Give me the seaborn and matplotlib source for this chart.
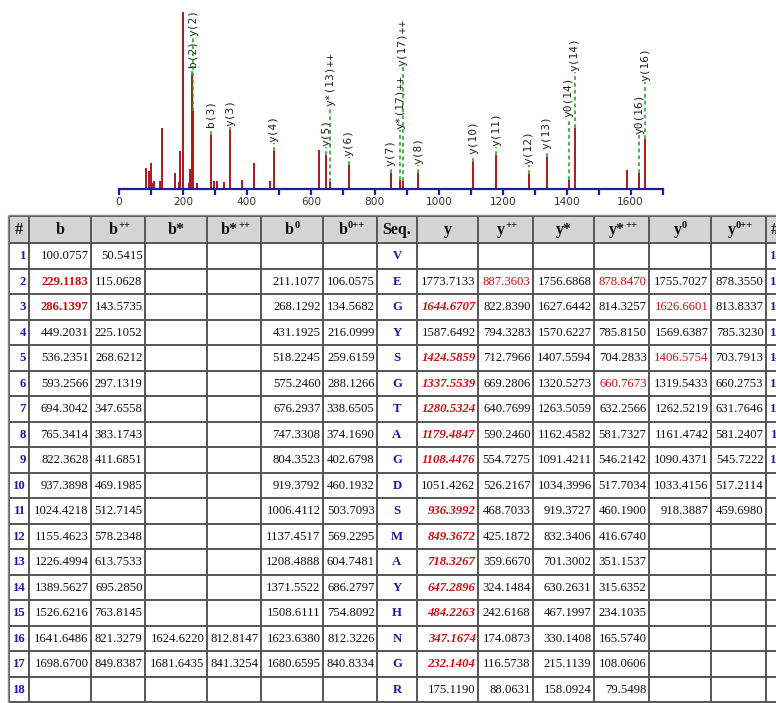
import matplotlib
matplotlib.use("Agg")
import matplotlib.pyplot as plt
import seaborn as sns
from matplotlib.patches import Rectangle

# ---------------- spectrum data ----------------
peak_mz = [84.5, 93.0, 101.0, 104.0, 110.5, 128.0, 134.6, 174.3, 187.8, 191.9,
           201.3, 218.0, 222.0, 229.1, 232.1, 245.0, 286.1, 298.3, 307.7, 328.6,
           347.2, 386.0, 421.6, 472.6, 484.2, 625.0, 647.3, 660.8, 718.3, 849.4,
           878.8, 887.4, 936.4, 1108.4, 1179.5, 1280.5, 1337.6, 1406.6, 1424.6,
           1587.8, 1626.7, 1644.7]
peak_int = [11.7, 10.3, 14.7, 3.4, 4.5, 4.5, 34.5, 9.2, 4.0, 21.3,
            100.0, 3.4, 11.3, 64.4, 44.1, 3.4, 30.7, 4.5, 4.5, 4.0,
            33.2, 5.1, 14.7, 4.5, 21.3, 21.9, 19.4, 3.8, 13.6, 9.2,
            5.1, 4.5, 9.2, 15.3, 19.0, 8.6, 18.2, 5.1, 34.6,
            10.6, 9.2, 28.4]

ann_labels = ["b(2)", "y(2)", "b(3)", "y(3)", "y(4)", "y(5)", "y*(13)++", "y(6)",
              "y(7)", "y*(17)++", "y(17)++", "y(8)", "y(10)", "y(11)", "y(12)",
              "y(13)", "y0(14)", "y(14)", "y0(16)", "y(16)"]
ann_mz = [229.1, 232.1, 286.1, 347.2, 484.2, 647.3, 660.8, 718.3,
          849.4, 878.8, 887.4, 936.4, 1108.4, 1179.5, 1280.5,
          1337.6, 1406.6, 1424.6, 1626.7, 1644.7]
# layout: height (relative intensity units) at which each label starts
label_level = [68.4, 85.9, 34.5, 35.0, 26.0, 23.7, 46.3, 18.1,
               12.4, 33.3, 68.9, 13.6, 19.2, 23.7, 13.6,
               22.0, 40.1, 66.1, 30.5, 60.5]

# ---------------- table data ----------------
header_base = ["#", "b", "b", "b*", "b*", "b", "b", "Seq.", "y", "y", "y*", "y*", "y", "y", "#"]
header_sup = ["", "", "++", "", "++", "0", "0++", "", "", "++", "", "++", "0", "0++", ""]
row_num = list(range(1, 19))
seq = list("VEGYSGTAGDSMAYHNGR")
N = None
b_ion = [100.0757, 229.1183, 286.1397, 449.2031, 536.2351, 593.2566, 694.3042, 765.3414,
         822.3628, 937.3898, 1024.4218, 1155.4623, 1226.4994, 1389.5627, 1526.6216,
         1641.6486, 1698.6700, N]
b_2 = [50.5415, 115.0628, 143.5735, 225.1052, 268.6212, 297.1319, 347.6558, 383.1743,
       411.6851, 469.1985, 512.7145, 578.2348, 613.7533, 695.2850, 763.8145, 821.3279,
       849.8387, N]
b_star = [N] * 15 + [1624.6220, 1681.6435, N]
b_star2 = [N] * 15 + [812.8147, 841.3254, N]
b_0 = [N, 211.1077, 268.1292, 431.1925, 518.2245, 575.2460, 676.2937, 747.3308, 804.3523,
       919.3792, 1006.4112, 1137.4517, 1208.4888, 1371.5522, 1508.6111, 1623.6380,
       1680.6595, N]
b_02 = [N, 106.0575, 134.5682, 216.0999, 259.6159, 288.1266, 338.6505, 374.1690, 402.6798,
        460.1932, 503.7093, 569.2295, 604.7481, 686.2797, 754.8092, 812.3226, 840.8334, N]
y_ion = [N, 1773.7133, 1644.6707, 1587.6492, 1424.5859, 1337.5539, 1280.5324, 1179.4847,
         1108.4476, 1051.4262, 936.3992, 849.3672, 718.3267, 647.2896, 484.2263, 347.1674,
         232.1404, 175.1190]
y_2 = [N, 887.3603, 822.8390, 794.3283, 712.7966, 669.2806, 640.7699, 590.2460, 554.7275,
       526.2167, 468.7033, 425.1872, 359.6670, 324.1484, 242.6168, 174.0873, 116.5738, 88.0631]
y_star = [N, 1756.6868, 1627.6442, 1570.6227, 1407.5594, 1320.5273, 1263.5059, 1162.4582,
          1091.4211, 1034.3996, 919.3727, 832.3406, 701.3002, 630.2631, 467.1997, 330.1408,
          215.1139, 158.0924]
y_star2 = [N, 878.8470, 814.3257, 785.8150, 704.2833, 660.7673, 632.2566, 581.7327,
           546.2142, 517.7034, 460.1900, 416.6740, 351.1537, 315.6352, 234.1035, 165.5740,
           108.0606, 79.5498]
y_0 = [N, 1755.7027, 1626.6601, 1569.6387, 1406.5754, 1319.5433, 1262.5219, 1161.4742,
       1090.4371, 1033.4156, 918.3887] + [N] * 7
y_02 = [N, 878.3550, 813.8337, 785.3230, 703.7913, 660.2753, 631.7646, 581.2407,
        545.7222, 517.2114, 459.6980] + [N] * 7
row_num_rev = list(range(18, 0, -1))

# matched (red) rows per column
b_matched = [2, 3]
y_matched = [3, 5, 6, 7, 8, 9, 11, 12, 13, 14, 15, 16, 17]
y2_matched = [2]
ystar2_matched = [2, 6]
y0_matched = [3, 5]

# ---------------- styling ----------------
W, H = 776, 703
sns.set_theme(style="white")
fig = plt.figure(figsize=(W / 100, H / 100), dpi=100)
fig.patch.set_facecolor("white")

PEAK = "#b01818"
GREEN = "#1f9a1f"
NAVY = "#1c1ca0"
RED = "#cc1010"

# spectrum axes, placed in pixel geometry
x0_px, x1_px, base_px, top_px = 119.0, 662.7, 189.0, 5.0
ymax = (base_px - top_px) / 177.0 * 100.0
ax = fig.add_axes([x0_px / W, 1 - base_px / H, (x1_px - x0_px) / W, (base_px - top_px) / H])
ax.set_facecolor("none")
ax.set_xlim(0, 1700)
ax.set_ylim(0, ymax)
ax.vlines(peak_mz, 0, peak_int, color=PEAK, lw=1.4, zorder=2)

for lab, mz, lev in zip(ann_labels, ann_mz, label_level):
    i = min(range(len(peak_mz)), key=lambda k: abs(peak_mz[k] - mz))
    top = peak_int[i]
    ax.plot([mz, mz], [top, lev], color=GREEN, lw=1.1, ls=(0, (2.5, 2)), zorder=3,
            clip_on=False)
    ax.text(mz, lev + 0.6, lab, rotation=90, ha="center", va="bottom",
            family="DejaVu Sans Mono", fontsize=8, color="#222222", clip_on=False)

sns.despine(ax=ax, left=True, top=True, right=True)
ax.spines["bottom"].set_color(NAVY)
ax.spines["bottom"].set_linewidth(1.6)
ax.set_yticks([])
ax.set_xticks(range(0, 1701, 100))
ax.set_xticklabels([str(v) if v % 200 == 0 else "" for v in range(0, 1701, 100)])
ax.tick_params(axis="x", direction="out", length=4, width=1.6, color=NAVY,
               labelsize=7.6, labelcolor="#333333", pad=2, bottom=True)
for t in ax.get_xticklabels():
    t.set_family("DejaVu Sans")
ax.grid(False)

# ---------------- table (pixel coordinate overlay) ----------------
tx = fig.add_axes([0, 0, 1, 1])
tx.set_xlim(0, W)
tx.set_ylim(H, 0)
tx.axis("off")
tx.patch.set_alpha(0)

col_edges = [9, 29, 91, 145, 207, 261, 323, 377, 417, 478, 533, 594, 649, 711, 766, 800]
head_top, head_bot, row_h = 216, 243, 25.5
row_edges = [head_bot + row_h * i for i in range(19)]

for c in range(len(col_edges) - 1):
    tx.add_patch(Rectangle((col_edges[c], head_top), col_edges[c + 1] - col_edges[c],
                           head_bot - head_top, facecolor="#d4d4d4", edgecolor="none",
                           zorder=1))
LC = "#555555"
tx.hlines([head_top] + row_edges, col_edges[0], col_edges[-1], color=LC, lw=1.4, zorder=3)
tx.vlines(col_edges, head_top, row_edges[-1], color=LC, lw=1.4, zorder=3)
tx.vlines([col_edges[0] - 1.5], head_top - 1.5, row_edges[-1], color="#888888", lw=1.0, zorder=3)
tx.hlines([head_top - 1.5], col_edges[0] - 1.5, col_edges[-1], color="#888888", lw=1.0, zorder=3)

SERIF = "Liberation Serif"
hy = (head_top + head_bot) / 2 + 1
for c, (hb, hs) in enumerate(zip(header_base, header_sup)):
    cx = (col_edges[c] + col_edges[c + 1]) / 2 - len(hs) * 2.3
    if c == len(header_base) - 1:
        cx = col_edges[c] + 9
    t = tx.text(cx, hy, hb, ha="center", va="center", family=SERIF, fontsize=11.5,
                fontweight="bold", color="#111111", zorder=4)
    if hs:
        tx.annotate(hs, xy=(1.0, 0.5), xycoords=t, xytext=(0.3, 0.5),
                    textcoords="offset points", ha="left", va="bottom", family=SERIF,
                    fontsize=7.5, fontweight="bold", color="#111111", zorder=4)

columns = [b_ion, b_2, b_star, b_star2, b_0, b_02, None, y_ion, y_2, y_star, y_star2, y_0, y_02]
matched = {1: b_matched, 8: y_matched, 9: y2_matched, 11: ystar2_matched, 12: y0_matched}
FS = 9.2
for r in range(18):
    cy = (row_edges[r] + row_edges[r + 1]) / 2 + 0.5
    rn = row_num[r]
    tx.text(col_edges[1] - 3, cy, str(rn), ha="right", va="center", family=SERIF,
            fontsize=FS, fontweight="bold", color=NAVY, zorder=4)
    tx.text((col_edges[7] + col_edges[8]) / 2, cy, seq[r], ha="center", va="center",
            family=SERIF, fontsize=FS, fontweight="bold", color=NAVY, zorder=4)
    tx.text(col_edges[14] + 17, cy, str(row_num_rev[r]), ha="right", va="center",
            family=SERIF, fontsize=FS, fontweight="bold", color=NAVY, zorder=4)
    for k, colvals in enumerate(columns):
        if colvals is None:
            continue
        c = k + 1
        v = colvals[r]
        if v is None:
            continue
        color, weight, style = "#111111", "normal", "normal"
        if c in matched and rn in matched[c]:
            color = RED
            if c == 1:
                weight = "bold"
            elif c == 8:
                weight, style = "bold", "italic"
        tx.text(col_edges[c + 1] - 2.5, cy, f"{v:.4f}", ha="right", va="center",
                family=SERIF, fontsize=FS, fontweight=weight, fontstyle=style,
                color=color, zorder=4)

fig.savefig("out.png", dpi=100, facecolor="white")
